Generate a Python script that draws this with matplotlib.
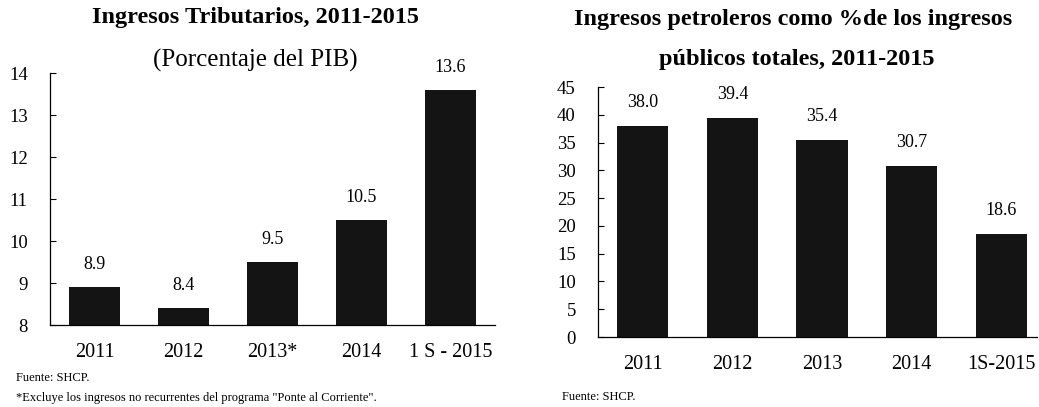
import matplotlib
matplotlib.use('Agg')
import matplotlib.pyplot as plt

plt.rcParams['font.family'] = ['Liberation Serif', 'DejaVu Serif']

# left chart: tax revenue, % of GDP
tax_years = ['2011', '2012', '2013*', '2014', '1 S - 2015']
tax_values = [8.9, 8.4, 9.5, 10.5, 13.6]
tax_yticks = [8, 9, 10, 11, 12, 13, 14]

# right chart: oil revenue as % of total public revenue
oil_years = ['2011', '2012', '2013', '2014', '1S-2015']
oil_values = [38.0, 39.4, 35.4, 30.7, 18.6]
oil_yticks = [0, 5, 10, 15, 20, 25, 30, 35, 40, 45]

W, H = 1039, 407
fig = plt.figure(figsize=(W / 100, H / 100), dpi=100)
bar_color = '#141414'


def px_axes(left, top, right, bottom):
    return fig.add_axes([left / W, 1 - bottom / H, (right - left) / W, (bottom - top) / H])


def style(ax):
    for s in ['top', 'right']:
        ax.spines[s].set_visible(False)
    for s in ['left', 'bottom']:
        ax.spines[s].set_linewidth(0.9)
    ax.tick_params(axis='y', direction='in', length=4, width=0.8, pad=16, labelsize=13.5)
    ax.tick_params(axis='x', length=0, pad=13, labelsize=14.5)


# ---- left ----
ax1 = px_axes(50, 73, 495, 325)
ax1.bar(range(len(tax_values)), tax_values, width=0.58, color=bar_color)
ax1.set_ylim(8, 14)
ax1.set_xlim(-0.5, 4.5)
ax1.set_yticks(tax_yticks)
ax1.set_xticks(range(len(tax_years)))
ax1.set_xticklabels(tax_years)
style(ax1)
for i, v in enumerate(tax_values):
    ax1.annotate(f'{v:.1f}', (i, v), xytext=(0, 16), textcoords='offset points',
                 ha='center', va='center', fontsize=13)

fig.text(255 / W, 1 - 18 / H, 'Ingresos Tributarios, 2011-2015', ha='center', va='center',
         fontsize=17.5, fontweight='bold')
fig.text(255 / W, 1 - 60 / H, '(Porcentaje del PIB)', ha='center', va='center', fontsize=18)
fig.text(16 / W, 1 - 378 / H, 'Fuente: SHCP.', ha='left', va='center', fontsize=9)
fig.text(16 / W, 1 - 398 / H, '*Excluye los ingresos no recurrentes del programa "Ponte al Corriente".',
         ha='left', va='center', fontsize=9)

# ---- right ----
ax2 = px_axes(598, 87, 1037, 337)
ax2.bar(range(len(oil_values)), oil_values, width=0.57, color=bar_color)
ax2.set_ylim(0, 45)
ax2.set_xlim(-0.5, 4.4)
ax2.set_yticks(oil_yticks)
ax2.set_xticks(range(len(oil_years)))
ax2.set_xticklabels(oil_years)
style(ax2)
for i, v in enumerate(oil_values):
    ax2.annotate(f'{v:.1f}', (i, v), xytext=(0, 17), textcoords='offset points',
                 ha='center', va='center', fontsize=13)

fig.text(793 / W, 1 - 20 / H, 'Ingresos petroleros como %de los ingresos', ha='center', va='center',
         fontsize=17.5, fontweight='bold')
fig.text(797 / W, 1 - 60 / H, 'públicos totales, 2011-2015', ha='center', va='center',
         fontsize=17.5, fontweight='bold')
fig.text(562 / W, 1 - 397 / H, 'Fuente: SHCP.', ha='left', va='center', fontsize=9)

fig.savefig('out.png', dpi=100)
